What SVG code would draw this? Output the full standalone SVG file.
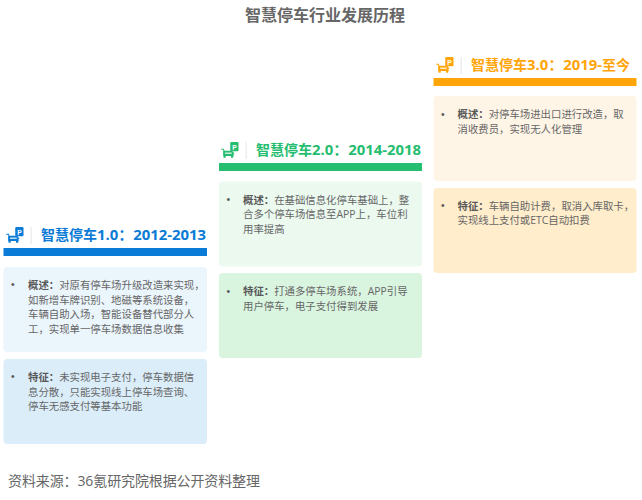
<svg xmlns="http://www.w3.org/2000/svg" width="642" height="500" viewBox="0 0 642 500">
<style>
text{font-family:"Open Sans","Noto Sans CJK SC",sans-serif}
.t{font-size:10.4px;fill:#666}
.b{font-weight:700;fill:#595959}
.dot{font-size:10.4px;fill:#595959;font-family:"Liberation Sans",sans-serif}
.h{font-size:14px;font-weight:700}
.l{font-size:14.900px}
.sep{fill:#eeeeee}
</style>
<defs>
<g id="icon">
<rect x="13" y="0" width="11" height="11" rx="1.500" fill="currentColor"/>
<text x="15.600" y="9" style="font-family:'Liberation Sans',sans-serif;font-size:9px;font-weight:700" fill="#fff">P</text>
<path d="M1 8.500H4L5 11H14L17 13H5.500V14.500" fill="none" stroke="currentColor" stroke-width="1.300"/>
<path d="M3.500 10.500H15.500L17.500 13V16.500H3.500Z" fill="currentColor"/>
<rect x="4" y="16" width="3" height="2.500" fill="currentColor"/><rect x="14" y="16" width="3" height="2.500" fill="currentColor"/>
<rect x="6" y="12.500" width="9" height="1.300" fill="#fff"/>
</g>
</defs>
<rect width="642" height="500" fill="#fff"/>
<text x="325" y="21" text-anchor="middle" font-size="16" font-weight="700" fill="#666">智慧停车行业发展历程</text>

<g id="stage-1">
<use href="#icon" transform="translate(5.500,227) scale(.75,.85)" color="#0a7bd6"/>
<rect class="sep" x="30.500" y="227" width="1.500" height="17"/>
<text class="h" x="41" y="240" fill="#0a7bd6">智慧停车<tspan class="l">1.0：2012-2013</tspan></text>
<rect x="3.500" y="248" width="203.500" height="8" fill="#0a7bd6"/>
</g>
<g id="stage-1-overview">
<rect x="3.500" y="267" width="203.500" height="85" rx="4" fill="#ebf5fc"/>
<text class="dot" x="11" y="288">•</text>
<text class="t" x="28" y="289"><tspan class="b">概述：</tspan>对原有停车场升级改造来实现，<tspan x="28" dy="14.700">如新增车牌识别、地磁等系统设备，</tspan><tspan x="28" dy="14.700">车辆自助入场，智能设备替代部分人</tspan><tspan x="28" dy="14.700">工，实现单一停车场数据信息收集</tspan></text>
</g>
<g id="stage-1-features">
<rect x="3.500" y="359" width="203.500" height="85" rx="4" fill="#daedf9"/>
<text class="dot" x="11" y="380">•</text>
<text class="t" x="28" y="381"><tspan class="b">特征：</tspan>未实现电子支付，停车数据信<tspan x="28" dy="14.700">息分散，只能实现线上停车场查询、</tspan><tspan x="28" dy="14.700">停车无感支付等基本功能</tspan></text>
</g>

<g id="stage-2">
<use href="#icon" transform="translate(220.500,142) scale(.75,.85)" color="#25bd70"/>
<rect class="sep" x="245.500" y="142" width="1.500" height="17"/>
<text class="h" x="256" y="155" fill="#25bd70">智慧停车<tspan class="l">2.0：2014-2018</tspan></text>
<rect x="219" y="163" width="203" height="8" fill="#25bd70"/>
</g>
<g id="stage-2-overview">
<rect x="219" y="181.500" width="203" height="85" rx="4" fill="#ebf9ef"/>
<text class="dot" x="226.500" y="203">•</text>
<text class="t" x="243" y="203.500"><tspan class="b">概述：</tspan>在基础信息化停车基础上，整<tspan x="243" dy="14.700">合多个停车场信息至APP上，车位利</tspan><tspan x="243" dy="14.700">用率提高</tspan></text>
</g>
<g id="stage-2-features">
<rect x="219" y="273" width="203" height="85" rx="4" fill="#d9f5e0"/>
<text class="dot" x="226.500" y="294.500">•</text>
<text class="t" x="243" y="295"><tspan class="b">特征：</tspan>打通多停车场系统，APP引导<tspan x="243" dy="14.700">用户停车，电子支付得到发展</tspan></text>
</g>

<g id="stage-3">
<use href="#icon" transform="translate(435.500,57) scale(.75,.85)" color="#ffa50a"/>
<rect class="sep" x="460.500" y="57" width="1.500" height="17"/>
<text class="h" x="471" y="70" fill="#ffa50a">智慧停车<tspan class="l">3.0：2019-</tspan>至今</text>
<rect x="433.500" y="78" width="203" height="8" fill="#ffa50a"/>
</g>
<g id="stage-3-overview">
<rect x="433.500" y="96" width="203" height="85" rx="4" fill="#fff5e6"/>
<text class="dot" x="441" y="118">•</text>
<text class="t" x="457.500" y="118"><tspan class="b">概述：</tspan>对停车场进出口进行改造，取<tspan x="457.500" dy="14.700">消收费员，实现无人化管理</tspan></text>
</g>
<g id="stage-3-features">
<rect x="433.500" y="188" width="203" height="85" rx="4" fill="#ffedcc"/>
<text class="dot" x="441" y="209">•</text>
<text class="t" x="457.500" y="209.500"><tspan class="b">特征：</tspan>车辆自助计费，取消入库取卡，<tspan x="457.500" dy="14.700">实现线上支付或ETC自动扣费</tspan></text>
</g>

<text x="8" y="486" font-size="14" fill="#666" textLength="252">资料来源：36氪研究院根据公开资料整理</text>
</svg>
